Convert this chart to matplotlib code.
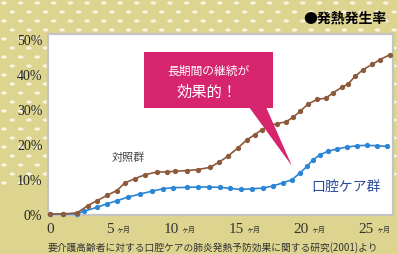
import numpy as np
import matplotlib
matplotlib.use("Agg")
import matplotlib.pyplot as plt
from matplotlib.collections import EllipseCollection
from matplotlib.patches import Rectangle, Polygon

plt.rcParams['font.family'] = ['Noto Sans CJK JP', 'DejaVu Sans']

# ---- data (months, %) ----
control_months = [0, 1.0, 2.08, 2.92, 3.62, 4.38, 5.15, 5.77, 6.54, 7.31, 8.23, 9.0,
                  9.62, 10.54, 11.38, 12.31, 13.0, 13.69, 14.46, 15.15, 15.77, 16.31,
                  16.85, 17.46, 18.15, 18.69, 19.23, 19.85, 20.54, 21.23, 21.77, 22.46,
                  22.92, 23.46, 24.08, 24.77, 25.38, 26.15]
control_vals = [0, 0, 0.3, 2.4, 3.8, 5.3, 6.7, 8.9, 10.1, 11.2, 12.0, 12.0,
                12.2, 12.4, 12.7, 13.3, 14.8, 16.5, 18.9, 21.2, 22.7, 24.1,
                25.3, 25.8, 26.3, 27.6, 29.3, 31.4, 32.7, 33.1, 34.6, 36.2,
                37.1, 39.3, 41.2, 42.7, 44.1, 45.5]

care_months = [0, 1.0, 2.08, 2.62, 3.62, 4.38, 5.15, 6.0, 6.92, 7.85, 8.69, 9.46,
               10.54, 11.38, 12.23, 13.08, 13.85, 14.69, 15.54, 16.38, 17.15, 17.92,
               18.62, 19.23, 19.77, 20.23, 20.77, 21.38, 22.08, 22.85, 23.62, 24.38,
               25.15, 25.92]
care_vals = [0, 0, 0, 0.8, 1.9, 2.9, 3.8, 4.8, 5.7, 6.5, 7.2, 7.5,
             7.6, 7.7, 7.7, 7.6, 7.3, 7.0, 7.2, 7.4, 8.0, 8.9,
             9.8, 11.7, 13.6, 15.5, 16.9, 17.9, 18.6, 19.1, 19.5, 19.6,
             19.5, 19.3]

x_ticks = [0, 5, 10, 15, 20, 25]
y_ticks = [0, 10, 20, 30, 40, 50]
y_ticklabels = ['0%', '10%', '20%', '30%', '40%', '50%']

title = '●発熱発生率'
label_control = '対照群'
label_care = '口腔ケア群'
callout_l1 = '長期間の継続が'
callout_l2 = '効果的！'
caption = '要介護高齢者に対する口腔ケアの肺炎発熱予防効果に関する研究(2001)より'

W, H = 397, 255
KHAKI = '#ddd58f'
fig = plt.figure(figsize=(W / 100, H / 100), dpi=100, facecolor=KHAKI)

# background decoration (pixel coords)
bg = fig.add_axes([0, 0, 1, 1], zorder=0)
bg.set_xlim(0, W)
bg.set_ylim(H, 0)
bg.axis('off')
offs = []
for r, yy in enumerate(np.arange(4, 192, 9)):
    start = 4 if r % 2 == 0 else 12.3
    for xx in np.arange(start, W + 10, 16.6):
        offs.append((xx, yy))
offs = np.array(offs)
ec = EllipseCollection(np.full(len(offs), 5.5), np.full(len(offs), 3.2),
                       np.zeros(len(offs)), units='xy', offsets=offs,
                       offset_transform=bg.transData, facecolors='#f8f5e2',
                       edgecolors='none')
bg.add_collection(ec)

# main axes
L, R, T, B = 48, 393, 35, 216
ax = fig.add_axes([L / W, 1 - B / H, (R - L) / W, (B - T) / H], zorder=1)
ax.set_facecolor('white')
px_per_month = 13.0
ax.set_xlim(-2 / px_per_month, (R - 50) / px_per_month)
ax.set_ylim(-0.3, (B - T) / 3.5 - 0.3)
for s in ax.spines.values():
    s.set_color('#c4c4c4')
    s.set_linewidth(1.6)

ax.plot(care_months, care_vals, color='#2a86d4', lw=1.2, marker='o', ms=3.8,
        mec='none', clip_on=False, zorder=3)
ax.plot(control_months, control_vals, color='#8c5a3a', lw=1.2, marker='o', ms=3.8,
        mec='none', clip_on=False, zorder=4)

ax.set_yticks(y_ticks)
ax.set_yticklabels(y_ticklabels, family='Liberation Serif', fontsize=10, color='#222222')
ax.tick_params(axis='y', length=0, pad=4)
ax.set_xticks(x_ticks)
ax.set_xticklabels([])
ax.tick_params(axis='x', length=0)
for t in x_ticks:
    if t == 0:
        ax.annotate(str(t), xy=(t, 0), xycoords=('data', 'axes fraction'),
                    xytext=(0, -9.5), textcoords='offset points', ha='center', va='center',
                    family='Liberation Serif', fontsize=11, color='#333333')
    else:
        ax.annotate(str(t), xy=(t, 0), xycoords=('data', 'axes fraction'),
                    xytext=(-1, -9.5), textcoords='offset points', ha='right', va='center',
                    family='Liberation Serif', fontsize=11, color='#333333')
        ax.annotate('ヶ月', xy=(t, 0), xycoords=('data', 'axes fraction'),
                    xytext=(0.5, -9.8), textcoords='offset points', ha='left', va='center',
                    fontsize=5, color='#333333')

ax.text(128, 158, label_control, transform=bg.transData, fontsize=8,
        color='#444444', ha='center', va='center', zorder=5)
ax.text(346, 187, label_care, transform=bg.transData, fontsize=10,
        color='#2b4a9a', ha='center', va='center', zorder=5)

# overlay for callout
ov = fig.add_axes([0, 0, 1, 1], zorder=2)
ov.set_xlim(0, W)
ov.set_ylim(H, 0)
ov.axis('off')
ov.patch.set_alpha(0)
PINK = '#d6246e'
ov.add_patch(Rectangle((144, 53), 129, 56, facecolor=PINK, edgecolor='none'))
ov.add_patch(Polygon([(249, 108), (266, 108), (292, 167)], closed=True,
                     facecolor=PINK, edgecolor='none'))
ov.text(209, 71, callout_l1, color='white', fontsize=8.5, ha='center', va='center')
ov.text(207, 92, callout_l2, color='white', fontsize=11, ha='center', va='center')

ov.text(386, 18, title, color='black', fontsize=10, fontweight='bold',
        ha='right', va='center')
ov.text(48, 248, caption, color='#333333', fontsize=7, ha='left', va='center')

fig.savefig('out.png', dpi=100, facecolor=KHAKI)
